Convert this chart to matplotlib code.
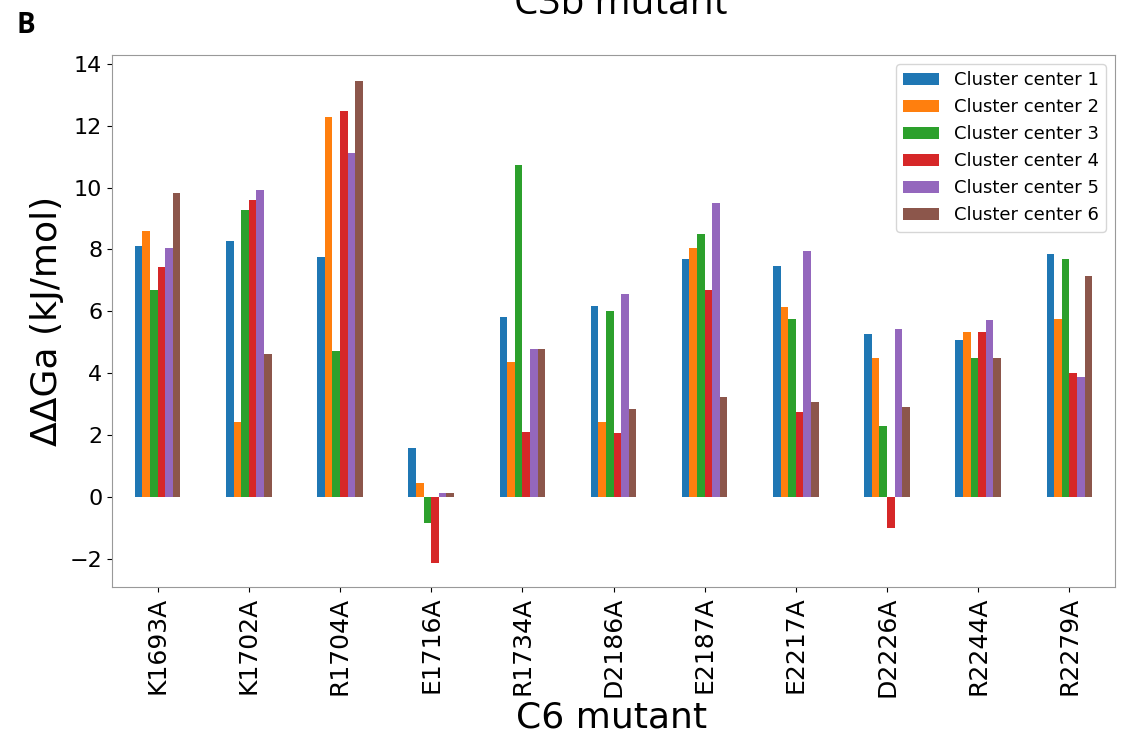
import numpy as np
import matplotlib
matplotlib.use('Agg')
import matplotlib.pyplot as plt

# C6 mutants (x categories)
mutants = ['K1693A', 'K1702A', 'R1704A', 'E1716A', 'R1734A', 'D2186A',
           'E2187A', 'E2217A', 'D2226A', 'R2244A', 'R2279A']

# ΔΔGa values per cluster center
center1 = [8.10, 8.27, 7.77, 1.59, 5.82, 6.19, 7.70, 7.45, 5.28, 5.09, 7.86]
center2 = [8.60, 2.42, 12.27, 0.46, 4.35, 2.43, 8.04, 6.14, 4.49, 5.35, 5.74]
center3 = [6.68, 9.28, 4.72, -0.83, 10.74, 6.01, 8.50, 5.74, 2.29, 4.49, 7.68]
center4 = [7.43, 9.60, 12.48, -2.12, 2.11, 2.07, 6.68, 2.75, -0.99, 5.35, 4.02]
center5 = [8.04, 9.93, 11.10, 0.15, 4.80, 6.57, 9.49, 7.95, 5.44, 5.73, 3.88]
center6 = [9.82, 4.61, 13.45, 0.12, 4.80, 2.84, 3.24, 3.07, 2.91, 4.49, 7.13]

series = [center1, center2, center3, center4, center5, center6]
labels = ['Cluster center %d' % (i + 1) for i in range(6)]
colors = ['#1f77b4', '#ff7f0e', '#2ca02c', '#d62728', '#9467bd', '#8c564b']

fig = plt.figure(figsize=(11.22, 7.38), dpi=100)
ax = fig.add_axes([0.0998, 0.2046, 0.894, 0.7209])

# grouped bars, pandas-style (total group width 0.5)
x = np.arange(len(mutants))
w = 0.5 / len(series)
for i, vals in enumerate(series):
    ax.bar(x - 0.25 + w * (i + 0.5), vals, width=w, color=colors[i], label=labels[i])

ax.set_xlim(-0.5, len(mutants) - 0.5)
ax.set_ylim(-2.9, 14.28)
ax.set_xticks(x)
ax.set_xticklabels(mutants, rotation=90, fontsize=18)
ax.set_yticks(np.arange(-2, 15, 2))
ax.set_yticklabels(['\u22122'] + [str(v) for v in range(0, 15, 2)], fontsize=16)
ax.set_ylabel('ΔΔGa (kJ/mol)', fontsize=26)
for s in ax.spines.values():
    s.set_color('#999999')

ax.legend(loc='upper right', fontsize=13, borderaxespad=0.5)

# x label sits right at the bottom edge
fig.text(0.545, 1 - 728 / 738, 'C6 mutant', fontsize=26, ha='center', va='baseline')

# title is cut off at the top edge in the reference
fig.text(0.553, 1 - 14 / 738, 'C3b mutant', fontsize=28, family='Open Sans',
         ha='center', va='baseline')
fig.text(0.015, 1 - 33 / 738, 'B', fontsize=20, fontweight='bold', family='Open Sans',
         ha='left', va='baseline')

fig.savefig('out.png', dpi=100)
